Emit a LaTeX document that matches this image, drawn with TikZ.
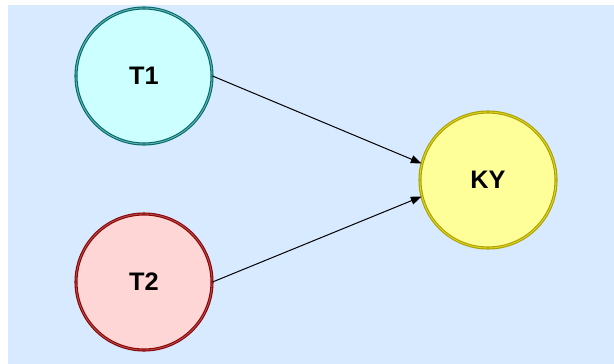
\documentclass[tikz,border=0pt]{standalone}
\usepackage{fontspec}
\setmainfont{Liberation Sans}
\usetikzlibrary{arrows.meta}

\definecolor{bgblue}{RGB}{216,234,255}
\definecolor{tealline}{RGB}{0,105,105}
\definecolor{tealfill}{RGB}{204,255,255}
\definecolor{redline}{RGB}{140,0,0}
\definecolor{redfill}{RGB}{255,214,214}
\definecolor{oliveline}{RGB}{170,160,0}
\definecolor{yellowfill}{RGB}{255,255,153}

\tikzset{
  ball/.style={circle, minimum size=102pt, inner sep=0pt, line width=0.8pt,
    double distance=0.7pt, font=\fontsize{19}{21}\selectfont\bfseries},
  link/.style={line width=0.75pt, -{Triangle[length=8pt,width=6pt]}}
}

\begin{document}
\begin{tikzpicture}[x=0.75pt,y=0.75pt,yscale=-1]
\useasboundingbox (0,0) rectangle (614,364);

%Shape: Rectangle [id:background]
\fill [white] (0,0) rectangle (614,364);
\fill [bgblue] (8,5) rectangle (614,364);

%Shape: Circle [id:T1]
\node [ball, draw=tealline, double=teal!60, fill=tealfill] (T1) at (144,76) {T1};
%Shape: Circle [id:T2]
\node [ball, draw=redline, double=red!55!black!70, fill=redfill] (T2) at (144,282) {T2};
%Shape: Circle [id:KY]
\node [ball, draw=oliveline, double=yellow!85!black, fill=yellowfill] (KY) at (488,180) {KY};

%Straight Lines [id:T1-KY]
\draw [link] (T1.east) -- (KY.166);
%Straight Lines [id:T2-KY]
\draw [link] (T2.east) -- (KY.194);

\end{tikzpicture}
\end{document}
